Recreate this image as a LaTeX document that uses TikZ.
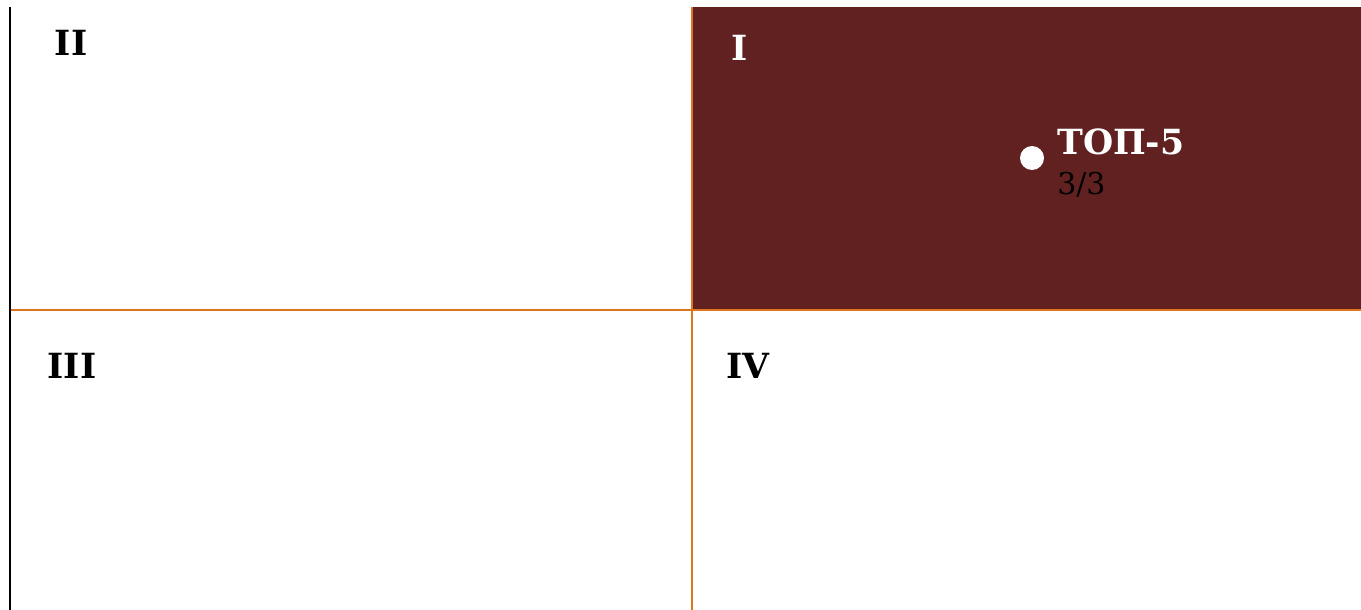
\documentclass[tikz,border=0pt]{standalone}
\usepackage{fontspec}
\setmainfont{DejaVu Serif}
\usetikzlibrary{positioning}
\definecolor{quadred}{RGB}{97,33,32}
\definecolor{quadline}{RGB}{222,118,30}

\begin{document}
\begin{tikzpicture}[x=0.75pt,y=-0.75pt]
  \tikzstyle{quad}=[font=\fontsize{26}{31}\selectfont\bfseries,anchor=base,inner sep=0pt]
  \tikzstyle{axis}=[line width=1.5pt]
  \useasboundingbox (0,0) rectangle (1361,610);
  % first quadrant
  \fill[quadred] (691,7) rectangle (1361,310);
  \coordinate (ytop) at (10,7);
  \coordinate (ybot) at (10,610);
  \coordinate (hl) at (10,310);
  \coordinate (hr) at (1361,310);
  \coordinate (vt) at (692,7);
  \coordinate (vb) at (692,610);
  \draw[axis,quadline] (hl) -- (hr);
  \draw[axis,quadline] (vt) -- (vb);
  \draw[axis,black] (ytop) -- (ybot);
  \node[quad] (q2) at (71,56) {II};
  \node[quad,white] (q1) at (740,61) {I};
  \node[quad] (q3) at (72,378) {III};
  \node[quad] (q4) at (748,378) {IV};
  % item
  \node[circle,fill=white,inner sep=0pt,minimum size=18pt] (dot) at (1032,158) {};
  \node[quad,white,anchor=base west] (top5) at (1057,155) {ТОП-5};
  \node[font=\fontsize{22.5}{27}\selectfont,anchor=base west,inner sep=0pt] (score) at (1057,195) {3/3};
\end{tikzpicture}
\end{document}
